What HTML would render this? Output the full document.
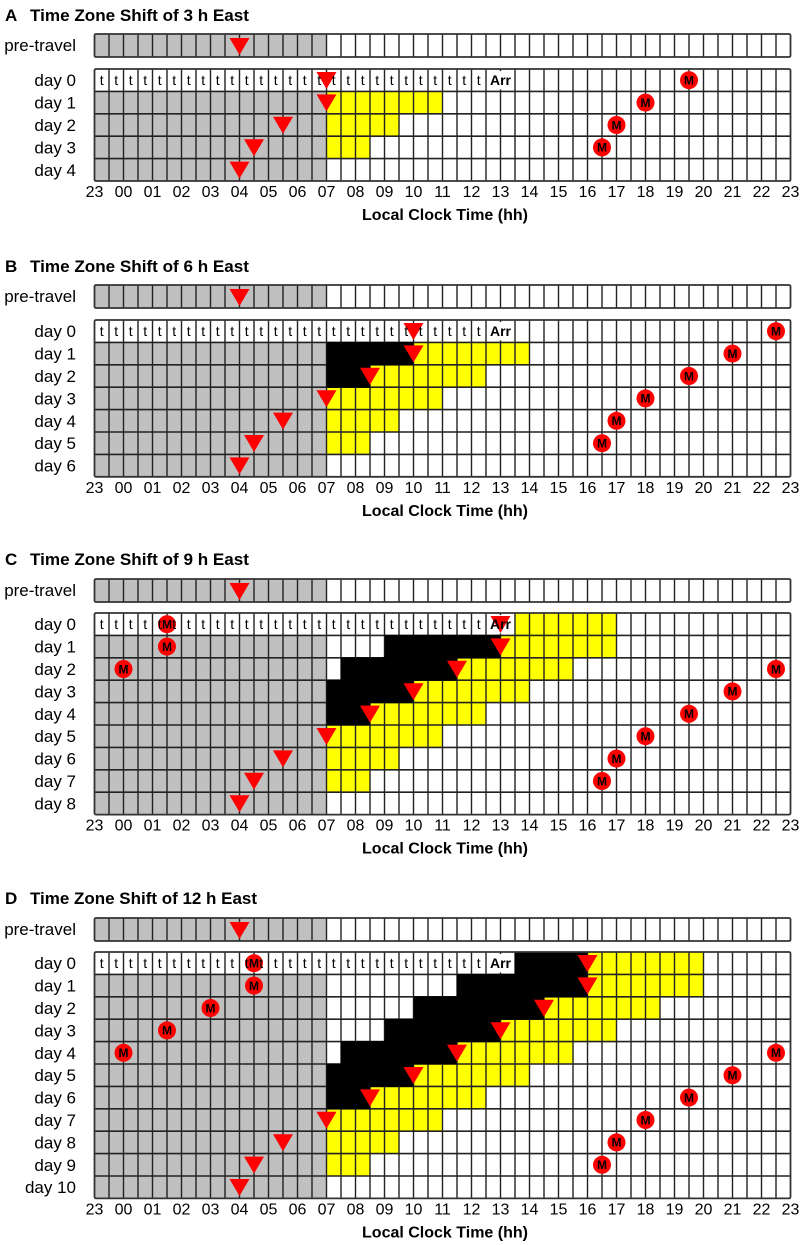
<!DOCTYPE html>
<html><head><meta charset="utf-8">
<style>
html,body{margin:0;padding:0;background:#fff;}
svg{display:block;font-family:"Liberation Sans",Arial,sans-serif;}
.tt{font-size:17px;font-weight:bold;}
.lb{font-size:17px;text-anchor:end;}
.tk{font-size:16px;text-anchor:middle;}
.ax{font-size:16px;font-weight:bold;text-anchor:middle;}
.t{font-size:14px;text-anchor:middle;}
.arr{font-size:14px;font-weight:bold;text-anchor:middle;}
.m{font-size:12px;font-weight:bold;text-anchor:middle;}
</style></head><body>
<svg id="s" width="806" height="1245" viewBox="0 0 806 1245" xmlns="http://www.w3.org/2000/svg">
<rect width="806" height="1245" fill="#fff"/>

<!-- Panel A -->
<g transform="translate(0,69)">
<g id="pA"></g>
<text x="5" y="-48" class="tt">A</text><text x="30" y="-48" class="tt" textLength="219" lengthAdjust="spacingAndGlyphs">Time Zone Shift of 3 h East</text>
<text x="76" y="-18" class="lb">pre-travel</text>
<text x="76" y="17.2" class="lb">day 0</text><text x="76" y="39.6" class="lb">day 1</text><text x="76" y="62" class="lb">day 2</text><text x="76" y="84.4" class="lb">day 3</text><text x="76" y="106.8" class="lb">day 4</text>
<text class="t" y="16" x="101.75 116.25 130.75 145.25 159.75 174.25 188.75 203.25 217.75 232.25 246.75 261.25 275.75 290.25 304.75 319.25 333.75 348.25 362.75 377.25 391.75 406.25 420.75 435.25 449.75 464.25 478.75">ttttttttttttttttttttttttttt</text>
<text class="arr" x="500.5" y="16">Arr</text>
<text class="m" x="689" y="15.5">M</text><text class="m" x="645.5" y="37.9">M</text><text class="m" x="616.5" y="60.3">M</text><text class="m" x="602" y="82.7">M</text>
<g class="tk"><text x="94.5" y="128">23</text><text x="123.5" y="128">00</text><text x="152.5" y="128">01</text><text x="181.5" y="128">02</text><text x="210.5" y="128">03</text><text x="239.5" y="128">04</text><text x="268.5" y="128">05</text><text x="297.5" y="128">06</text><text x="326.5" y="128">07</text><text x="355.5" y="128">08</text><text x="384.5" y="128">09</text><text x="413.5" y="128">10</text><text x="442.5" y="128">11</text><text x="471.5" y="128">12</text><text x="500.5" y="128">13</text><text x="529.5" y="128">14</text><text x="558.5" y="128">15</text><text x="587.5" y="128">16</text><text x="616.5" y="128">17</text><text x="645.5" y="128">18</text><text x="674.5" y="128">19</text><text x="703.5" y="128">20</text><text x="732.5" y="128">21</text><text x="761.5" y="128">22</text><text x="790.5" y="128">23</text></g>
<text class="ax" x="445" y="151">Local Clock Time (hh)</text>
</g>

<!-- Panel B -->
<g transform="translate(0,320)">
<g id="pB"></g>
<text x="5" y="-48" class="tt">B</text><text x="30" y="-48" class="tt" textLength="219" lengthAdjust="spacingAndGlyphs">Time Zone Shift of 6 h East</text>
<text x="76" y="-18" class="lb">pre-travel</text>
<text x="76" y="17.2" class="lb">day 0</text><text x="76" y="39.6" class="lb">day 1</text><text x="76" y="62" class="lb">day 2</text><text x="76" y="84.4" class="lb">day 3</text><text x="76" y="106.8" class="lb">day 4</text><text x="76" y="129.2" class="lb">day 5</text><text x="76" y="151.6" class="lb">day 6</text>
<text class="t" y="16" x="101.75 116.25 130.75 145.25 159.75 174.25 188.75 203.25 217.75 232.25 246.75 261.25 275.75 290.25 304.75 319.25 333.75 348.25 362.75 377.25 391.75 406.25 420.75 435.25 449.75 464.25 478.75">ttttttttttttttttttttttttttt</text>
<text class="arr" x="500.5" y="16">Arr</text>
<text class="m" x="776" y="15.5">M</text><text class="m" x="732.5" y="37.9">M</text><text class="m" x="689" y="60.3">M</text><text class="m" x="645.5" y="82.7">M</text><text class="m" x="616.5" y="105.1">M</text><text class="m" x="602" y="127.5">M</text>
<g class="tk"><text x="94.5" y="172.8">23</text><text x="123.5" y="172.8">00</text><text x="152.5" y="172.8">01</text><text x="181.5" y="172.8">02</text><text x="210.5" y="172.8">03</text><text x="239.5" y="172.8">04</text><text x="268.5" y="172.8">05</text><text x="297.5" y="172.8">06</text><text x="326.5" y="172.8">07</text><text x="355.5" y="172.8">08</text><text x="384.5" y="172.8">09</text><text x="413.5" y="172.8">10</text><text x="442.5" y="172.8">11</text><text x="471.5" y="172.8">12</text><text x="500.5" y="172.8">13</text><text x="529.5" y="172.8">14</text><text x="558.5" y="172.8">15</text><text x="587.5" y="172.8">16</text><text x="616.5" y="172.8">17</text><text x="645.5" y="172.8">18</text><text x="674.5" y="172.8">19</text><text x="703.5" y="172.8">20</text><text x="732.5" y="172.8">21</text><text x="761.5" y="172.8">22</text><text x="790.5" y="172.8">23</text></g>
<text class="ax" x="445" y="195.8">Local Clock Time (hh)</text>
</g>

<!-- Panel C -->
<g transform="translate(0,613)">
<g id="pC"></g>
<text x="5" y="-48" class="tt">C</text><text x="30" y="-48" class="tt" textLength="219" lengthAdjust="spacingAndGlyphs">Time Zone Shift of 9 h East</text>
<text x="76" y="-17" class="lb">pre-travel</text>
<text x="76" y="17.2" class="lb">day 0</text><text x="76" y="39.6" class="lb">day 1</text><text x="76" y="62" class="lb">day 2</text><text x="76" y="84.4" class="lb">day 3</text><text x="76" y="106.8" class="lb">day 4</text><text x="76" y="129.2" class="lb">day 5</text><text x="76" y="151.6" class="lb">day 6</text><text x="76" y="174" class="lb">day 7</text><text x="76" y="196.4" class="lb">day 8</text>
<text class="t" y="16" x="101.75 116.25 130.75 145.25 159.75 174.25 188.75 203.25 217.75 232.25 246.75 261.25 275.75 290.25 304.75 319.25 333.75 348.25 362.75 377.25 391.75 406.25 420.75 435.25 449.75 464.25 478.75">ttttttttttttttttttttttttttt</text>
<text class="arr" x="500.5" y="16">Arr</text>
<text class="m" x="167" y="15.5">M</text><text class="m" x="167" y="37.9">M</text><text class="m" x="123.5" y="60.3">M</text><text class="m" x="776" y="60.3">M</text><text class="m" x="732.5" y="82.7">M</text><text class="m" x="689" y="105.1">M</text><text class="m" x="645.5" y="127.5">M</text><text class="m" x="616.5" y="149.9">M</text><text class="m" x="602" y="172.3">M</text>
<g class="tk"><text x="94.5" y="217.6">23</text><text x="123.5" y="217.6">00</text><text x="152.5" y="217.6">01</text><text x="181.5" y="217.6">02</text><text x="210.5" y="217.6">03</text><text x="239.5" y="217.6">04</text><text x="268.5" y="217.6">05</text><text x="297.5" y="217.6">06</text><text x="326.5" y="217.6">07</text><text x="355.5" y="217.6">08</text><text x="384.5" y="217.6">09</text><text x="413.5" y="217.6">10</text><text x="442.5" y="217.6">11</text><text x="471.5" y="217.6">12</text><text x="500.5" y="217.6">13</text><text x="529.5" y="217.6">14</text><text x="558.5" y="217.6">15</text><text x="587.5" y="217.6">16</text><text x="616.5" y="217.6">17</text><text x="645.5" y="217.6">18</text><text x="674.5" y="217.6">19</text><text x="703.5" y="217.6">20</text><text x="732.5" y="217.6">21</text><text x="761.5" y="217.6">22</text><text x="790.5" y="217.6">23</text></g>
<text class="ax" x="445" y="240.6">Local Clock Time (hh)</text>
</g>

<!-- Panel D -->
<g transform="translate(0,952)">
<g id="pD"></g>
<text x="5" y="-48" class="tt">D</text><text x="30" y="-48" class="tt" textLength="227" lengthAdjust="spacingAndGlyphs">Time Zone Shift of 12 h East</text>
<text x="76" y="-17" class="lb">pre-travel</text>
<text x="76" y="17.2" class="lb">day 0</text><text x="76" y="39.6" class="lb">day 1</text><text x="76" y="62" class="lb">day 2</text><text x="76" y="84.4" class="lb">day 3</text><text x="76" y="106.8" class="lb">day 4</text><text x="76" y="129.2" class="lb">day 5</text><text x="76" y="151.6" class="lb">day 6</text><text x="76" y="174" class="lb">day 7</text><text x="76" y="196.4" class="lb">day 8</text><text x="76" y="218.8" class="lb">day 9</text><text x="76" y="241.2" class="lb">day 10</text>
<text class="t" y="16" x="101.75 116.25 130.75 145.25 159.75 174.25 188.75 203.25 217.75 232.25 246.75 261.25 275.75 290.25 304.75 319.25 333.75 348.25 362.75 377.25 391.75 406.25 420.75 435.25 449.75 464.25 478.75">ttttttttttttttttttttttttttt</text>
<text class="arr" x="500.5" y="16">Arr</text>
<text class="m" x="254" y="15.5">M</text><text class="m" x="254" y="37.9">M</text><text class="m" x="210.5" y="60.3">M</text><text class="m" x="167" y="82.7">M</text><text class="m" x="123.5" y="105.1">M</text><text class="m" x="776" y="105.1">M</text><text class="m" x="732.5" y="127.5">M</text><text class="m" x="689" y="149.9">M</text><text class="m" x="645.5" y="172.3">M</text><text class="m" x="616.5" y="194.7">M</text><text class="m" x="602" y="217.1">M</text>
<g class="tk"><text x="94.5" y="262.4">23</text><text x="123.5" y="262.4">00</text><text x="152.5" y="262.4">01</text><text x="181.5" y="262.4">02</text><text x="210.5" y="262.4">03</text><text x="239.5" y="262.4">04</text><text x="268.5" y="262.4">05</text><text x="297.5" y="262.4">06</text><text x="326.5" y="262.4">07</text><text x="355.5" y="262.4">08</text><text x="384.5" y="262.4">09</text><text x="413.5" y="262.4">10</text><text x="442.5" y="262.4">11</text><text x="471.5" y="262.4">12</text><text x="500.5" y="262.4">13</text><text x="529.5" y="262.4">14</text><text x="558.5" y="262.4">15</text><text x="587.5" y="262.4">16</text><text x="616.5" y="262.4">17</text><text x="645.5" y="262.4">18</text><text x="674.5" y="262.4">19</text><text x="703.5" y="262.4">20</text><text x="732.5" y="262.4">21</text><text x="761.5" y="262.4">22</text><text x="790.5" y="262.4">23</text></g>
<text class="ax" x="445" y="285.4">Local Clock Time (hh)</text>
</g>
</svg>
<script>
(function(){
var NS="http://www.w3.org/2000/svg";
var X0=94.5,CW=14.5,RH=22.4,XR=X0+48*CW;
function hx(h){var o=(h-23+24)%24;return X0+o*29;}
function el(p,n,a){var e=document.createElementNS(NS,n);for(var k in a)e.setAttribute(k,a[k]);p.appendChild(e);return e;}
var P={
A:{n:5,tri:[7,7,5.5,4.5,4],M:[[19.5],[18],[17],[16.5],[]],
 Y:[[],[[7,11]],[[7,9.5]],[[7,8.5]],[]],K:[]},
B:{n:7,tri:[10,10,8.5,7,5.5,4.5,4],M:[[22.5],[21],[19.5],[18],[17],[16.5],[]],
 Y:[[],[[10,14]],[[8.5,12.5]],[[7,11]],[[7,9.5]],[[7,8.5]],[]],
 K:[[],[[7,10]],[[7,8.5]]]},
C:{n:9,tri:[13,13,11.5,10,8.5,7,5.5,4.5,4],M:[[1.5],[1.5],[0,22.5],[21],[19.5],[18],[17],[16.5],[]],
 Y:[[[13.5,17]],[[13,17]],[[11.5,15.5]],[[10,14]],[[8.5,12.5]],[[7,11]],[[7,9.5]],[[7,8.5]],[]],
 K:[[],[[9,13]],[[7.5,11.5]],[[7,10]],[[7,8.5]]]},
D:{n:11,tri:[16,16,14.5,13,11.5,10,8.5,7,5.5,4.5,4],
 M:[[4.5],[4.5],[3],[1.5],[0,22.5],[21],[19.5],[18],[17],[16.5],[]],
 Y:[[[16,20]],[[16,20]],[[14.5,18.5]],[[13,17]],[[11.5,15.5]],[[10,14]],[[8.5,12.5]],[[7,11]],[[7,9.5]],[[7,8.5]],[]],
 K:[[[13.5,16]],[[11.5,16]],[[10,14.5]],[[9,13]],[[7.5,11.5]],[[7,10]],[[7,8.5]]]}
};
function tri(g,x,y){el(g,"polygon",{points:(x-10)+","+y+" "+(x+10)+","+y+" "+x+","+(y+17),fill:"#f00"});}
for(var id in P){
 var d=P[id],g=document.getElementById("p"+id);
 var pt=(id=="C"||id=="D")?-34:-35,ph=23;
 el(g,"rect",{x:X0,y:pt,width:XR-X0,height:ph,fill:"#fff"});
 el(g,"rect",{x:X0,y:pt,width:16*CW,height:ph,fill:"#c0c0c0"});
 for(var k=1;k<48;k++){var x=X0+k*CW;el(g,"line",{x1:x,x2:x,y1:pt,y2:pt+ph,stroke:"#222","stroke-width":1.4});}
 el(g,"rect",{x:X0,y:pt,width:XR-X0,height:ph,fill:"none",stroke:"#333","stroke-width":1.8,rx:1.5});
 tri(g,hx(4),pt+4);
 var H=d.n*RH;
 el(g,"rect",{x:X0,y:0,width:XR-X0,height:H,fill:"#fff"});
 for(var i=1;i<d.n;i++) el(g,"rect",{x:X0,y:i*RH,width:16*CW,height:RH,fill:"#c0c0c0"});
 for(var i=0;i<d.n;i++){
  (d.Y[i]||[]).forEach(function(s){el(g,"rect",{x:hx(s[0]),y:i*RH,width:hx(s[1])-hx(s[0]),height:RH,fill:"#ffff00"});});
 }
 for(var k=1;k<48;k++){var x=X0+k*CW;el(g,"line",{x1:x,x2:x,y1:0,y2:H,stroke:"#222","stroke-width":1.4});}
 for(var i=1;i<d.n;i++){el(g,"line",{x1:X0,x2:XR,y1:i*RH,y2:i*RH,stroke:"#222","stroke-width":1.6});}
 for(var i=0;i<d.n;i++){
  (d.K[i]||[]).forEach(function(s){el(g,"rect",{x:hx(s[0]),y:i*RH-0.5,width:hx(s[1])-hx(s[0]),height:RH+1,fill:"#000"});});
 }
 el(g,"rect",{x:X0,y:0,width:XR-X0,height:H,fill:"none",stroke:"#333","stroke-width":1.8,rx:1.5});
 el(g,"rect",{x:487,y:2,width:27,height:RH-4,fill:"#fff"});
 for(var i=0;i<d.n;i++){
  d.M[i].forEach(function(h){el(g,"circle",{cx:hx(h),cy:i*RH+RH/2,r:9,fill:"#f00"});});
 }
 for(var i=0;i<d.n;i++) tri(g,hx(d.tri[i]),i*RH+3);
}
})();
</script>
</body></html>
